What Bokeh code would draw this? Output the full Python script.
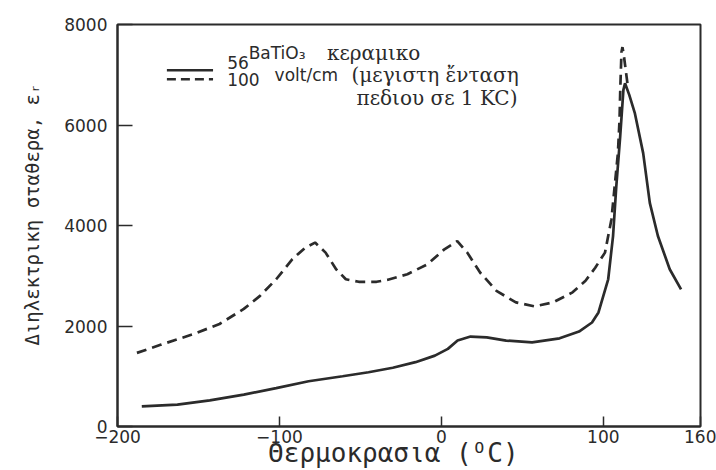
from bokeh.plotting import figure
from bokeh.models import Range1d, FixedTicker, Label
from bokeh.embed import file_html
from bokeh.resources import INLINE

# Dielectric constant of BaTiO3 ceramic vs temperature, two field strengths (volt/cm, 1 kc)
temp_56 = [-185, -163, -143, -122, -102, -82, -61, -45, -30, -16, -4, 4, 10, 18, 28,
           40, 56, 73, 85, 93, 97, 103, 106, 108, 110.4, 112.4, 113.4, 116, 119.5,
           124.6, 128.7, 133.7, 141, 148]
eps_56 = [400, 435, 520, 635, 765, 900, 1000, 1080, 1170, 1280, 1410, 1545, 1710, 1790, 1775,
          1710, 1675, 1755, 1890, 2070, 2270, 2930, 3790, 4780, 5770, 6700, 6830, 6600, 6230,
          5440, 4450, 3790, 3130, 2730]

temp_100 = [-188, -173, -153, -137, -122, -112, -102, -92, -84, -78, -71.5, -65, -59, -51,
            -40, -33, -21, -8.5, 1.6, 9.8, 16, 24, 34, 46, 57.5, 69, 81, 89, 95, 101, 105,
            107, 109, 110, 110.5, 111.2, 111.8, 112.6, 113.6, 115]
eps_100 = [1465, 1630, 1840, 2040, 2340, 2600, 2930, 3330, 3560, 3660, 3460, 3130, 2930, 2880,
           2880, 2920, 3030, 3230, 3520, 3690, 3460, 3060, 2700, 2470, 2390, 2470, 2670, 2900,
           3160, 3460, 4120, 4780, 5440, 6100, 6760, 7450, 7550, 7400, 7150, 6800]

x_ticks = [-200, -100, 0, 100, 160]
x_tick_labels = {-200: "\u2212200", -100: "\u2212100", 0: "0", 100: "100", 160: "160"}
y_ticks = [0, 2000, 4000, 6000, 8000]

INK = "#2b2b2b"
NBSP = "\u00a0"

p = figure(width=716, height=470, output_backend="svg", toolbar_location=None,
           x_range=Range1d(-200, 160), y_range=Range1d(0, 8000),
           min_border_left=117, min_border_right=16, min_border_top=24, min_border_bottom=0)
p.background_fill_color = "white"
p.border_fill_color = "white"
p.grid.visible = False
p.outline_line_color = INK
p.outline_line_width = 2

# axes
p.xaxis.ticker = FixedTicker(ticks=x_ticks)
p.xaxis.major_label_overrides = x_tick_labels
p.yaxis.ticker = FixedTicker(ticks=y_ticks)
for ax in (p.xaxis[0], p.yaxis[0]):
    ax.axis_line_color = INK
    ax.axis_line_width = 2
    ax.major_tick_line_color = INK
    ax.major_tick_line_width = 1.5
    ax.major_tick_out = 0
    ax.minor_tick_line_color = None
    ax.major_label_text_font = "DejaVu Sans"
    ax.major_label_text_font_size = "17px"
    ax.major_label_text_color = INK
    ax.axis_label_text_font = "DejaVu Sans Mono"
    ax.axis_label_text_font_style = "normal"
    ax.axis_label_text_color = INK
p.xaxis.major_tick_in = 10
p.yaxis.major_tick_in = 15
p.xaxis.major_label_standoff = 3
p.yaxis.major_label_standoff = 10
# trailing / leading no-break spaces nudge the centred titles off the frame centre
p.xaxis.axis_label = "\u0398\u03b5\u03c1\u03bc\u03bf\u03ba\u03c1\u03b1\u03c3\u03b9\u03b1 (\u1d3cC)" + NBSP * 2
p.xaxis.axis_label_text_font_size = "26px"
p.xaxis.axis_label_standoff = -8
p.yaxis.axis_label = NBSP * 2 + "\u0394\u03b9\u03b7\u03bb\u03b5\u03ba\u03c4\u03c1\u03b9\u03ba\u03b7 \u03c3\u03c4\u03b1\u03b8\u03b5\u03c1\u03b1, \u03b5\u1d63"
p.yaxis.axis_label_text_font_size = "19px"
p.yaxis.axis_label_standoff = 18

# curves
p.line(temp_56, eps_56, line_color=INK, line_width=2.7)
p.line(temp_100, eps_100, line_color=INK, line_width=2.7, line_dash="10 6")

# key
p.line([-169.5, -141], [7090, 7090], line_color=INK, line_width=2.4)
p.line([-169.5, -141], [6910, 6910], line_color=INK, line_width=2.4, line_dash="9 5")

def note(x, y, text, font, size, baseline="alphabetic"):
    p.add_layout(Label(x=x, y=y, text=text, text_font=font, text_font_size=size,
                       text_color=INK, text_baseline=baseline, text_align="left"))

note(-132.3, 7245, "56", "DejaVu Sans", "17px", "middle")
note(-132.3, 6910, "100", "DejaVu Sans", "17px", "middle")
note(-119, 7425, "BaTiO\u2083", "DejaVu Sans", "17px")
note(-70.7, 7425, "\u03ba\u03b5\u03c1\u03b1\u03bc\u03b9\u03ba\u03bf", "DejaVu Serif", "20px")
note(-103, 6990, "volt/cm", "DejaVu Sans", "17px")
note(-55.5, 6990, "(\u03bc\u03b5\u03b3\u03b9\u03c3\u03c4\u03b7 \u1f14\u03bd\u03c4\u03b1\u03c3\u03b7", "DejaVu Serif", "20px")
note(-52.4, 6534, "\u03c0\u03b5\u03b4\u03b9\u03bf\u03c5 \u03c3\u03b5 1 KC)", "DejaVu Serif", "20px")

open("out.html", "w").write(file_html(p, INLINE))
